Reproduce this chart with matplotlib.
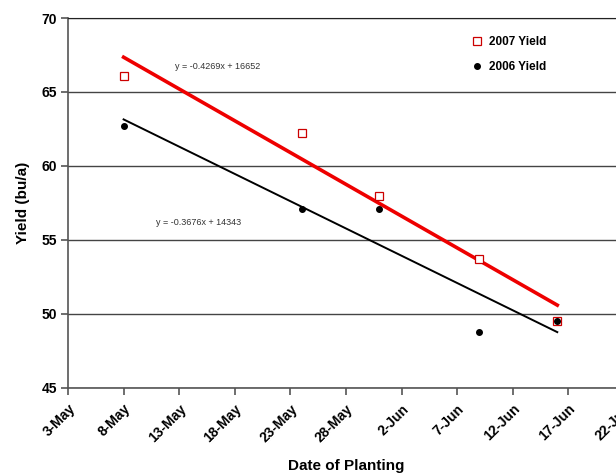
import matplotlib
matplotlib.use('Agg')
import matplotlib.pyplot as plt
import matplotlib.dates as mdates
import numpy as np
import datetime as dt

plt.rcParams['font.family'] = ['Liberation Sans', 'DejaVu Sans']

# planting dates and yields
dates = ['2006-05-08', '2006-05-24', '2006-05-31', '2006-06-09', '2006-06-16']
yield_2007 = [66.1, 62.2, 58.0, 53.7, 49.5]
yield_2006 = [62.7, 57.1, 57.1, 48.8, 49.5]
eq_2007 = 'y = -0.4269x + 16652'
eq_2006 = 'y = -0.3676x + 14343'

x = [dt.datetime.strptime(d, '%Y-%m-%d') for d in dates]
xn = mdates.date2num(x)

fig = plt.figure(figsize=(6.16, 4.75), dpi=100)
ax = fig.add_axes([0.1104, 0.1832, 0.9026, 0.7789])

# trend lines (least squares)
xl = np.array([xn[0], xn[-1]])
p7 = np.polyfit(xn, yield_2007, 1)
p6 = np.polyfit(xn, yield_2006, 1)
ax.plot(xl, np.polyval(p7, xl), color='#ee0000', lw=2.6, zorder=3)
ax.plot(xl, np.polyval(p6, xl), color='black', lw=1.4, zorder=3)

ax.plot(xn, yield_2007, 's', mfc='white', mec='#cc0000', ms=5.5, mew=0.9,
        label='2007 Yield', zorder=4)
ax.plot(xn, yield_2006, 'o', color='black', ms=4, label='2006 Yield', zorder=5)

ax.text(mdates.date2num(dt.datetime(2006, 5, 16, 10)), 66.75, eq_2007,
        fontsize=6.5, ha='center', va='center', color='#333333')
ax.text(mdates.date2num(dt.datetime(2006, 5, 14, 17)), 56.15, eq_2006,
        fontsize=6.5, ha='center', va='center', color='#333333')

start = dt.datetime(2006, 5, 3)
ticks = [start + dt.timedelta(days=5 * i) for i in range(11)]
ax.set_xlim(mdates.date2num(ticks[0]), mdates.date2num(ticks[-1]))
ax.set_xticks(mdates.date2num(ticks))
ax.set_xticklabels([f'{t.day}-{t.strftime("%b")}' for t in ticks],
                   rotation=45, ha='right', rotation_mode='anchor',
                   fontsize=10, fontweight='bold')
ax.set_ylim(45, 70)
ax.set_yticks([45, 50, 55, 60, 65, 70])
ax.set_yticklabels(['45', '50', '55', '60', '65', '70'],
                   fontsize=10, fontweight='bold')
ax.tick_params(axis='both', length=5, width=1.2, color='#555555', pad=3)
ax.tick_params(axis='x', pad=5)

ax.yaxis.grid(True, color='#444444', lw=1.0)
ax.set_axisbelow(True)
for s in ['left', 'bottom']:
    ax.spines[s].set_color('#555555')
    ax.spines[s].set_linewidth(1.2)
ax.spines['top'].set_color('#222222')
ax.spines['right'].set_visible(False)

ax.set_xlabel('Date of Planting', fontsize=11, fontweight='bold', labelpad=10)
ax.set_ylabel('Yield (bu/a)', fontsize=11, fontweight='bold', labelpad=8)

ax.legend(loc='upper right', bbox_to_anchor=(0.88, 0.98), frameon=False,
          prop={'weight': 'bold', 'size': 8.5}, handletextpad=0.5,
          labelspacing=1.1, handlelength=1.0)

fig.savefig('out.png', dpi=100)
